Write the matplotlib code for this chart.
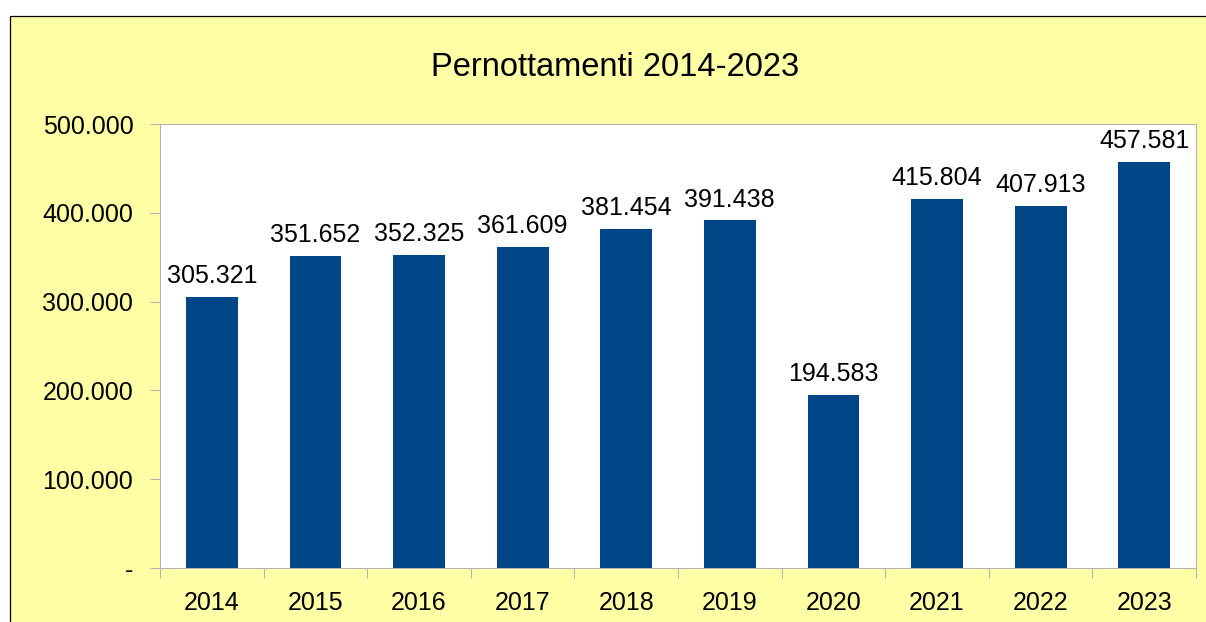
import matplotlib
matplotlib.use("Agg")
import matplotlib.pyplot as plt
from matplotlib.patches import Rectangle
from matplotlib.ticker import FixedLocator, FuncFormatter

plt.rcParams['font.family'] = ['Liberation Sans', 'DejaVu Sans']

years = ['2014', '2015', '2016', '2017', '2018', '2019', '2020', '2021', '2022', '2023']
values = [305321, 351652, 352325, 361609, 381454, 391438, 194583, 415804, 407913, 457581]
title = 'Pernottamenti 2014-2023'
yticks = [0, 100000, 200000, 300000, 400000, 500000]

W, H = 1206, 622
fig = plt.figure(figsize=(W / 100, H / 100), dpi=100)
fig.patch.set_facecolor('white')

# yellow chart area with black border (top/left visible)
bg = Rectangle((9.5 / W, -0.2), 1.3, (H - 15.5) / H + 0.2, transform=fig.transFigure,
               facecolor='#FFFFA6', edgecolor='black', linewidth=0.9, zorder=-10)
fig.add_artist(bg)

ax = fig.add_axes([160 / W, (H - 568) / H, 1036 / W, 444 / H])
ax.set_facecolor('white')

def fmt_it(v):
    if v == 0:
        return '-'
    return f"{int(v):,}".replace(',', '.')

x = list(range(len(years)))
bars = ax.bar(x, values, width=0.5, color='#004586', zorder=2)
for xi, v in zip(x, values):
    ax.annotate(fmt_it(v), (xi, v), xytext=(0, 10), textcoords='offset points',
                ha='center', va='baseline', fontsize=18, color='black')

ax.set_xlim(-0.5, len(years) - 0.5)
ax.set_ylim(0, 500000)

ax.set_yticks(yticks)
ax.yaxis.set_major_formatter(FuncFormatter(lambda v, p: fmt_it(v)))
ax.tick_params(axis='y', length=7.2, width=0.75, color='#b3b3b3', pad=12, labelsize=18)

ax.set_xticks(x)
ax.set_xticklabels(years)
ax.xaxis.set_minor_locator(FixedLocator([i - 0.5 for i in range(len(years) + 1)]))
ax.tick_params(axis='x', which='major', length=0, pad=16.5, labelsize=18)
ax.tick_params(axis='x', which='minor', length=7.5, width=0.75, color='#b3b3b3')

for s in ax.spines.values():
    s.set_color('#b3b3b3')
    s.set_linewidth(0.75)

fig.text(615 / W, 1 - 68 / H, title, ha='center', va='center', fontsize=23.5, color='black')

fig.savefig('out.png', dpi=100)
